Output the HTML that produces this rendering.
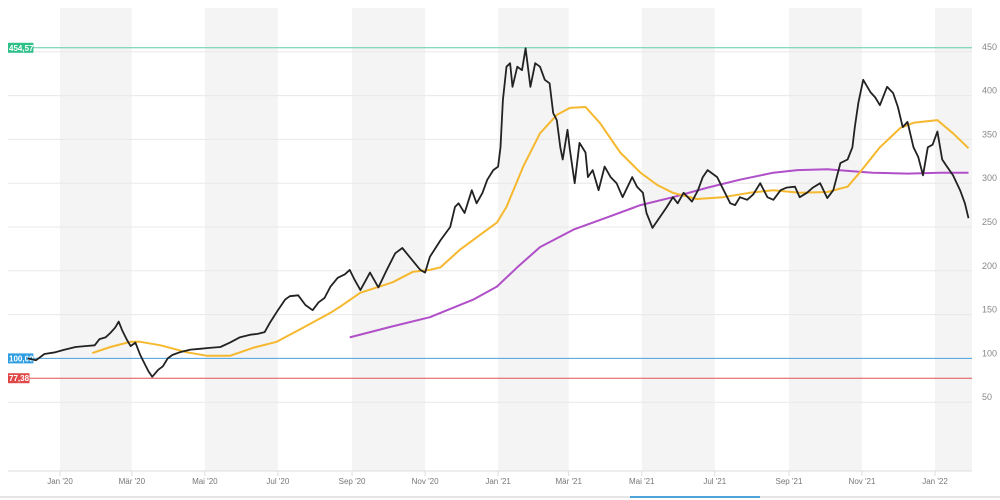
<!DOCTYPE html>
<html><head><meta charset="utf-8">
<style>
html,body{margin:0;padding:0;background:#fff;}
svg{display:block;font-family:"Liberation Sans",sans-serif;}
</style></head>
<body>
<svg id="chart" width="1000" height="500" viewBox="0 0 1000 500">
<g id="bands"></g>
<g id="grid"></g>
<g id="refs"></g>
<g id="series"></g>
<g id="xaxis"></g>
<g id="yaxis"></g>
<line x1="0" y1="497" x2="1000" y2="497" stroke="#e6e6e6" stroke-width="2"/>
<line x1="630" y1="497" x2="760" y2="497" stroke="#4ba3d8" stroke-width="2"/>
</svg>
<script>
// ---- data ----
const priceDays = [-27,-20,-13,-4,4,13,21,29,33,38,42,46,49,52,56,59,63,67,71,74,77,82,86,90,94,100,109,117,125,134,142,150,159,165,171,175,182,188,192,199,205,211,216,221,226,232,238,242,246,251,259,266,273,280,286,292,301,305,309,318,326,330,333,338,344,348,353,357,362,366,368,370,373,376,378,382,386,389,393,397,401,405,409,412,415,418,420,424,426,430,434,439,441,445,450,455,460,465,470,478,482,487,490,495,501,507,512,516,521,528,533,537,541,549,553,560,564,568,574,579,585,591,596,602,607,614,618,624,629,635,641,646,652,658,662,664,667,671,677,681,685,691,696,700,704,708,713,717,721,725,729,733,737,741,746,752,756,759];
const priceVals = [100,98,105,107,110,113,114,115,122,124,129,135,142,132,121,114,118,104,93,85,79,87,91,100,104,107,110,111,112,113,118,124,127,128,130,140,155,167,171,172,161,155,164,169,182,192,196,201,190,178,198,181,201,220,226,216,201,198,216,235,250,273,277,266,292,277,289,304,315,319,341,395,433,437,410,433,429,454,410,437,433,418,414,380,372,341,327,361,338,300,346,335,307,315,292,319,307,300,284,307,296,289,266,249,261,273,284,277,289,279,292,307,315,307,296,277,275,284,281,287,300,284,281,292,295,296,284,289,295,300,283,292,323,327,341,364,392,418,404,398,389,410,403,387,364,370,341,330,309,341,344,359,327,319,309,292,277,260];
const yellowDays = [27,42,59,67,84,106,123,142,161,181,203,226,234,251,267,278,295,309,318,334,353,365,373,387,401,415,426,439,451,468,485,499,512,532,554,576,596,618,641,658,668,685,702,713,733,746,759];
const yellowVals = [106,113,119,119,115,107,103,103,112,119,135,152,159,175,182,187,199,201,204,224,243,255,273,319,357,378,386,387,369,335,312,298,289,282,284,289,292,289,290,296,312,341,363,369,372,357,340];
const purpleDays = [242,276,309,345,365,382,401,429,457,485,512,541,568,596,616,641,658,679,708,735,759];
const purpleVals = [124,136,147,167,182,204,227,247,261,275,284,295,304,312,315,316,314,312,311,312,312];
const yTicks = [50,100,150,200,250,300,350,400,450];
const xTickLabels = ["Jan '20","Mär '20","Mai '20","Jul '20","Sep '20","Nov '20","Jan '21","Mär '21","Mai '21","Jul '21","Sep '21","Nov '21","Jan '22"];
const xTickDays = [0,60,121,182,244,305,366,425,486,547,609,670,731];
const refVals = [454.57, 100, 77.38];
const refLabels = ["454,57","100,00","77,38"];
// ---- scales ----
const X0=60, PXD=1.197, Y0=446, PXV=0.876, LEFT=8, RIGHT=972, TOP=8, BOTTOM=471;
const xs = d => X0 + d*PXD;
const ys = v => Y0 - v*PXV;
const NS="http://www.w3.org/2000/svg";
function mk(tag, attrs, parent){const e=document.createElementNS(NS,tag);for(const k in attrs)e.setAttribute(k,attrs[k]);parent.appendChild(e);return e;}
const bands=document.getElementById('bands'),grid=document.getElementById('grid'),refs=document.getElementById('refs'),series=document.getElementById('series'),xaxis=document.getElementById('xaxis'),yaxis=document.getElementById('yaxis');
// bands
for(let i=0;i<xTickDays.length;i+=2){
  const x1=xs(xTickDays[i]);const x2=i+1<xTickDays.length?xs(xTickDays[i+1]):RIGHT;
  const r=mk('rect',{x:x1,y:TOP,width:Math.min(x2,RIGHT)-x1,height:BOTTOM-TOP,fill:'#f4f4f4'},bands);
  
  
}
// grid + y labels
yTicks.forEach(v=>{
  const y=ys(v);
  const l=mk('line',{x1:LEFT,x2:RIGHT,y1:y,y2:y,stroke:'#e8e8e8','stroke-width':1},grid);
  
  
  const t=mk('text',{x:982,y:ys(v)-2,'font-size':9,fill:'#888'},yaxis);
  t.textContent=v;
  
  
});
// x axis
mk('line',{x1:LEFT,x2:RIGHT,y1:BOTTOM,y2:BOTTOM,stroke:'#ddd','stroke-width':1},xaxis);
xTickDays.forEach((d,i)=>{
  const x=xs(d);
  mk('line',{x1:x,x2:x,y1:BOTTOM,y2:BOTTOM+5,stroke:'#ddd'},xaxis);
  const t=mk('text',{x:x,y:484,'font-size':8,fill:'#777','text-anchor':'middle'},xaxis);
  t.textContent=xTickLabels[i];
  
  
});
// reference lines
const refColors=['#5fcfa8','#4ba3e0','#e05555'];
const labelBg=['#2fc08a','#2f9ee0','#e04848'];
refVals.forEach((v,i)=>{
  const y=ys(v);
  const l=mk('line',{x1:LEFT,x2:RIGHT,y1:y,y2:y,stroke:refColors[i],'stroke-width':1},refs);
  
  
  const w=refLabels[i].length*3.9+2;
  const r=mk('rect',{x:LEFT,y:y-5,width:w,height:10,fill:labelBg[i]},refs);
  
  
  const t=mk('text',{x:LEFT+1,y:y+3,'font-size':8,fill:'#fff','font-weight':'bold'},refs);
  t.textContent=refLabels[i];
  
  
});
function line(days,vals,color,w,name){
  const d=days.map((dd,i)=>(i?'L':'M')+xs(dd).toFixed(1)+' '+ys(vals[i]).toFixed(1)).join(' ');
  const p=mk('path',{d:d,fill:'none',stroke:color,'stroke-width':w,'stroke-linejoin':'round'},series);
  
  
}
line(purpleDays,purpleVals,'#b04fc8',2,'moving-average-200');
line(yellowDays,yellowVals,'#f5b82e',2,'moving-average-50');
line(priceDays,priceVals,'#222',1.8,'price-line');
</script>
</body></html>
